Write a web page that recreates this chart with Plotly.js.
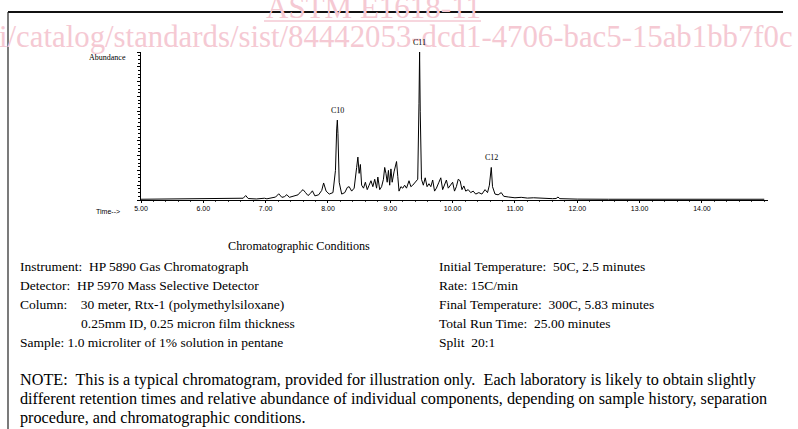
<!DOCTYPE html>
<html>
<head>
<meta charset="utf-8">
<script src="https://cdn.plot.ly/plotly-3.0.1.min.js"></script>
<style>html,body{margin:0;padding:0;background:#fff;}#chart{width:798px;height:429px;}</style>
</head>
<body>
<div id="chart"></div>
<script>
// Retention time (minutes)
var retentionTime = [5.00,5.20,5.40,5.60,5.80,6.00,6.20,6.40,6.55,6.64,6.68,6.72,6.85,6.98,7.02,7.10,7.16,7.21,7.26,7.30,7.34,7.38,7.45,7.52,7.56,7.60,7.64,7.68,7.72,7.75,7.79,7.85,7.90,7.93,7.97,8.02,8.08,8.12,8.14,8.15,8.16,8.18,8.22,8.27,8.31,8.34,8.38,8.42,8.46,8.48,8.50,8.52,8.54,8.57,8.60,8.63,8.66,8.69,8.72,8.75,8.78,8.80,8.83,8.86,8.89,8.91,8.93,8.95,8.97,8.99,9.01,9.03,9.06,9.08,9.10,9.12,9.14,9.17,9.20,9.23,9.26,9.30,9.33,9.36,9.40,9.44,9.46,9.47,9.48,9.50,9.53,9.56,9.59,9.62,9.65,9.68,9.71,9.74,9.78,9.81,9.84,9.87,9.90,9.93,9.96,10.00,10.03,10.06,10.09,10.12,10.15,10.18,10.21,10.25,10.29,10.33,10.37,10.42,10.47,10.52,10.56,10.59,10.62,10.64,10.68,10.73,10.78,10.82,10.90,11.00,11.10,11.20,11.30,11.40,11.50,11.60,11.66,11.69,11.72,11.85,12.00,12.50,13.00,13.50,14.00,14.50,15.00];
// Relative abundance (C11 = 100)
var abundance = [0.5,0.6,0.5,0.7,0.5,0.6,0.8,0.7,1.0,1.2,3.0,1.0,0.7,1.2,0.8,1.5,2.0,4.2,1.8,2.2,3.6,1.8,2.4,3.5,5.5,7.0,5.0,3.0,4.5,6.2,2.8,3.5,6.5,11.5,6.0,4.0,5.0,20,48,54,45,12,4.0,5.0,8.5,9.0,6.0,8.0,22,29,18,24,10,8,12,7,10,13,9,14,8,15.5,7,9,14,22,18,12,20,10,21,12,19,24,26,16,6,9,8,10,8,13,9,10,12,14,65,100,60,14,10,15,9,11,9,13.5,6,8,12,15,7,10,13.5,8,10,12,6,9,14,13,7,9.5,6,7,5,6,4,5,4,7,5,10,22,9,4,3.5,5,2.5,2,1.5,1.8,1.3,1.5,1.2,1.0,0.9,1.0,2.0,0.9,0.7,0.6,0.5,0.5,0.5,0.5,0.5,0.5];
// Labelled peaks
var peakNames = ["C10","C11","C12"];
var peakTimes = [8.15,9.47,10.62];
var peakHeights = [54,100,22];
// Axis tick labels
var tickValues = [5,6,7,8,9,10,11,12,13,14];
var tickLabels = ["5.00","6.00","7.00","8.00","9.00","10.00","11.00","12.00","13.00","14.00"];
// Text block
var conditionsTitle = "Chromatographic Conditions";
var leftLines = ["Instrument:  HP 5890 Gas Chromatograph","Detector:  HP 5970 Mass Selective Detector","Column:    30 meter, Rtx-1 (polymethylsiloxane)","0.25mm ID, 0.25 micron film thickness","Sample: 1.0 microliter of 1% solution in pentane"];
var rightLines = ["Initial Temperature:  50C, 2.5 minutes","Rate: 15C/min","Final Temperature:  300C, 5.83 minutes","Total Run Time:  25.00 minutes","Split  20:1"];
var noteLines = ["NOTE:  This is a typical chromatogram, provided for illustration only.  Each laboratory is likely to obtain slightly","different retention times and relative abundance of individual components, depending on sample history, separation","procedure, and chromatographic conditions."];
var watermark1 = "ASTM E1618-11";
var watermark2 = "i/catalog/standards/sist/84442053-dcd1-4706-bac5-15ab1bb7f0c";

var W = 798, H = 429;
function px(x){return x/W;}
function py(y){return 1 - y/H;}
function keepSpaces(s){return s.replace(/  /g, '\u00a0 ');}
var serif = "Liberation Serif, Times New Roman, serif";

var annotations = [];
function addText(text, x, y, size, anchor, color, family){
  annotations.push({xref:'paper', yref:'paper', x:px(x), y:py(y), text:keepSpaces(text), showarrow:false,
    xanchor:anchor||'left', yanchor:'middle', font:{family:family||serif, size:size, color:color||'#000'}});
}
// watermark
var wm = '#f5c9d3';
addText(watermark1, 264, 7, 31, 'left', wm);
addText(watermark2, -3, 37, 30.8, 'left', wm);
// peak labels
for (var i=0;i<peakNames.length;i++){
  annotations.push({xref:'x', yref:'y', x:peakTimes[i], y:peakHeights[i], text:peakNames[i], showarrow:false,
    yanchor:'bottom', yshift:3, font:{family:serif, size:8, color:'#000'}});
}
addText("Abundance", 128, 58, 8, 'right');
addText("Time-->", 122, 211, 7, 'right', '#000', 'Liberation Sans, Arial, sans-serif');
addText(conditionsTitle, 299, 246, 12.2, 'center');
var rowY = [266,285,304,323,342];
for (var r=0;r<5;r++){
  addText(leftLines[r], r===3 ? 79 : 18, rowY[r], 13.5, 'left');
  addText(rightLines[r], 437, rowY[r], 13.5, 'left');
}
var noteY = [380,399,418];
for (var n=0;n<3;n++) addText(noteLines[n], 18, noteY[n], 16.2, 'left');

var shapes = [
  {type:'line', xref:'paper', yref:'paper', x0:px(8), x1:px(783), y0:py(12), y1:py(12), line:{color:'#111', width:2}},
  {type:'line', xref:'paper', yref:'paper', x0:px(8), x1:px(8), y0:py(12), y1:py(429), line:{color:'#222', width:1.2}},
  {type:'line', xref:'paper', yref:'paper', x0:px(264), x1:px(481), y0:py(21), y1:py(21), line:{color:wm, width:1.5}}
];

var trace = {x:retentionTime, y:abundance, type:'scatter', mode:'lines', line:{color:'#000', width:1}, hoverinfo:'x+y'};

var layout = {
  width:W, height:H, autosize:false, showlegend:false,
  margin:{l:0,r:0,t:0,b:0}, paper_bgcolor:'#fff', plot_bgcolor:'rgba(0,0,0,0)',
  xaxis:{domain:[px(141), px(768)], range:[5,15.06], showgrid:false, zeroline:false, showline:true, linecolor:'#000', linewidth:1,
    tickvals:tickValues, ticktext:tickLabels, ticks:'outside', ticklen:2, tickcolor:'#000',
    tickfont:{family:'Liberation Sans, Arial, sans-serif', size:7, color:'#000'},
    minor:{dtick:0.2, ticks:'outside', ticklen:1, tickcolor:'#444'}},
  yaxis:{domain:[py(200), py(52)], range:[0,100], showgrid:false, zeroline:false, showline:true, linecolor:'#000', linewidth:1,
    showticklabels:false, ticks:'outside', ticklen:3, dtick:10, tickcolor:'#000',
    minor:{dtick:2.5, ticks:'outside', ticklen:2, tickcolor:'#000'}},
  annotations:annotations, shapes:shapes
};
Plotly.newPlot('chart', [trace], layout, {displayModeBar:false, staticPlot:true});
</script>
</body>
</html>
